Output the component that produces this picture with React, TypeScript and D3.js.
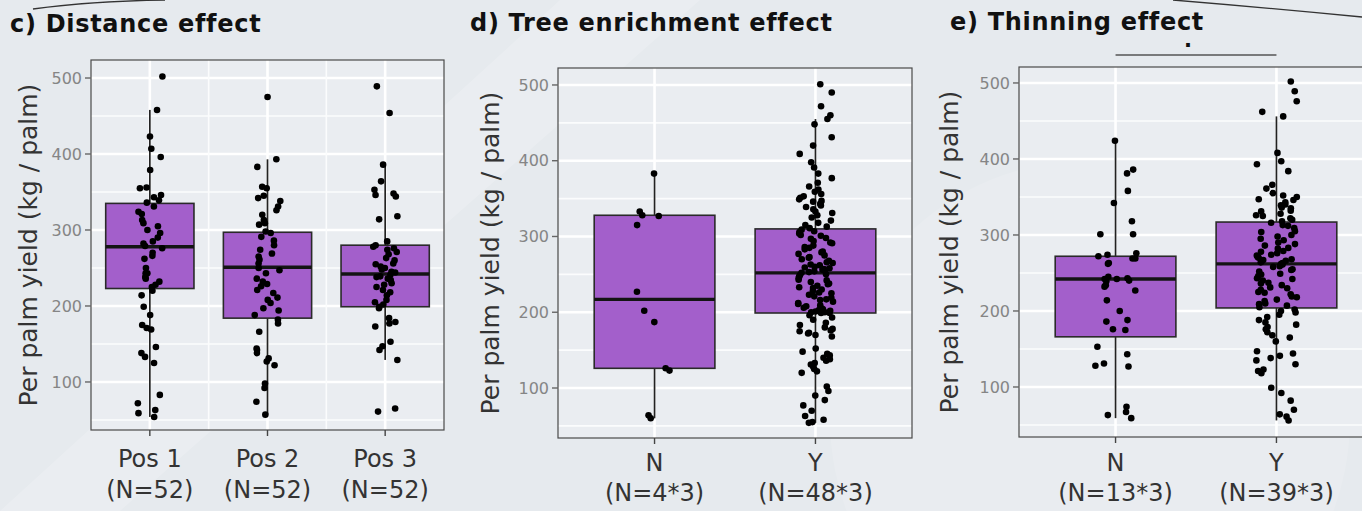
import React from "react";
import * as d3 from "d3";

// ---------- data ----------
const yTicks = [100, 200, 300, 400, 500];

const distTitle = "c) Distance effect";
const distCategories = ["Pos 1", "Pos 2", "Pos 3"];
const distCounts = ["(N=52)", "(N=52)", "(N=52)"];
const distPos1 = [502, 458, 423, 407, 396, 379, 356, 355, 346, 343, 339, 336, 331, 324, 321, 313, 309, 305, 300, 296, 290, 285, 282, 279, 276, 270, 266, 262, 250, 243, 243, 238, 236, 232, 228, 225, 220, 214, 199, 188, 175, 171, 169, 146, 138, 133, 125, 83, 72, 63, 59, 54];
const distPos2 = [475, 393, 383, 357, 355, 345, 342, 338, 331, 326, 320, 313, 309, 307, 298, 296, 291, 286, 280, 274, 269, 265, 261, 256, 250, 247, 243, 236, 232, 229, 226, 221, 217, 211, 208, 204, 197, 194, 188, 182, 177, 166, 144, 142, 138, 131, 127, 122, 98, 92, 74, 57];
const distPos3 = [489, 454, 386, 364, 353, 348, 346, 344, 318, 314, 285, 280, 278, 276, 274, 271, 268, 263, 260, 256, 255, 252, 250, 248, 245, 244, 241, 239, 238, 236, 234, 230, 228, 225, 221, 218, 214, 208, 205, 202, 199, 197, 184, 179, 177, 173, 153, 147, 142, 129, 65, 61];
const distQ1 = [223, 184, 199];
const distMedian = [278, 251, 242];
const distQ3 = [335, 297, 280];
const distWhiskerLow = [54, 57, 129];
const distWhiskerHigh = [458, 393, 386];

const enrichTitle = "d) Tree enrichment effect";
const enrichCategories = ["N", "Y"];
const enrichCounts = ["(N=4*3)", "(N=48*3)"];
const enrichN = [383, 333, 328, 327, 315, 227, 202, 187, 126, 123, 64, 60];
const enrichY = [
  501, 490, 472, 460, 455, 448, 431, 420, 409, 398, 391, 383, 377, 371, 366, 362, 359, 356, 353, 351, 349, 347, 346, 343, 341, 339, 336, 333, 331, 328, 325, 321, 318, 315, 313, 311,
  309, 307, 306, 304, 302, 301, 298, 297, 294, 292, 291, 288, 286, 285, 283, 280, 279, 277, 275, 273, 272, 270, 268, 266, 265, 263, 262, 260, 259, 258, 257, 256, 255, 254, 253, 252,
  250, 249, 247, 245, 243, 242, 240, 238, 237, 235, 233, 232, 230, 228, 226, 225, 223, 221, 219, 217, 216, 214, 212, 211, 209, 208, 206, 205, 204, 203, 202, 201, 200, 200, 199, 199,
  196, 193, 190, 186, 183, 180, 178, 176, 175, 173, 172, 170, 168, 152, 148, 145, 143, 140, 138, 136, 133, 131, 128, 125, 122, 120, 102, 96, 90, 84, 77, 70, 63, 58, 55, 54,
];
const enrichQ1 = [126, 199];
const enrichMedian = [217, 252];
const enrichQ3 = [328, 310];
const enrichWhiskerLow = [60, 54];
const enrichWhiskerHigh = [383, 455];

const thinTitle = "e) Thinning effect";
const thinCategories = ["N", "Y"];
const thinCounts = ["(N=13*3)", "(N=39*3)"];
const thinN = [424, 386, 381, 358, 342, 318, 301, 301, 276, 274, 272, 269, 269, 263, 262, 245, 243, 242, 242, 240, 239, 234, 232, 227, 214, 200, 188, 186, 176, 175, 153, 143, 131, 128, 127, 74, 67, 63, 59];
const thinY = [
  502, 489, 476, 462, 456, 408, 397, 393, 384, 366, 361, 355, 352, 350, 347, 346, 343, 340, 339, 336, 335, 332, 331, 328, 326, 325, 322, 320, 318,
  316, 313, 312, 309, 305, 304, 300, 298, 295, 293, 290, 288, 286, 283, 282, 279, 278, 276, 274, 273, 271, 270, 268, 267, 266, 265, 264, 263, 262,
  261, 259, 258, 255, 254, 252, 249, 248, 246, 243, 242, 240, 237, 236, 234, 231, 230, 228, 225, 224, 222, 219, 218, 215, 213, 210, 209, 207, 205,
  202, 200, 198, 195, 192, 188, 185, 182, 179, 176, 172, 168, 165, 160, 147, 144, 141, 138, 135, 130, 123, 121, 118, 99, 92, 82, 70, 64, 61, 56,
];
const thinQ1 = [166, 204];
const thinMedian = [242, 262];
const thinQ3 = [272, 317];
const thinWhiskerLow = [59, 56];
const thinWhiskerHigh = [424, 456];
const thinSignif = ".";

const yLabel = "Per palm yield (kg / palm)";

// ---------- styles ----------
const FONT = "'DejaVu Sans', Verdana, sans-serif";
const FILL = "#a35fcb";
const PAGE_BG = "#e6eaee";
const PANEL_BG = "#eaedf1";

type PanelProps = {
  title: string;
  categories: string[];
  counts: string[];
  groups: number[][];
  q1: number[];
  med: number[];
  q3: number[];
  wlo: number[];
  whi: number[];
  left: number;
  right: number;
  top: number;
  bottom: number;
  pad: number;
  ydom: [number, number];
  titleX: number;
  titleY: number;
  ylabX: number;
  lab1Y: number;
  lab2Y: number;
  midVerticals: boolean;
  seed: number;
  jitter: number;
  signif?: string;
};

function Panel(p: PanelProps) {
  const n = p.categories.length;
  const x = d3.scaleLinear().domain([1 - p.pad, n + p.pad]).range([p.left, p.right]);
  const y = d3.scaleLinear().domain(p.ydom).range([p.bottom, p.top]);
  const unit = x(2) - x(1);
  const boxW = unit * 0.75;
  const minor = yTicks.map((t) => t - 50).filter((v) => v > p.ydom[0]);
  const rng = d3.randomUniform.source(d3.randomLcg(p.seed))(-p.jitter, p.jitter);
  const cy = (p.top + p.bottom) / 2;
  return (
    <g>
      <text x={p.titleX} y={p.titleY} fontFamily={FONT} fontWeight="bold" fontSize={24} fill="#111" letterSpacing={0.7}>
        {p.title}
      </text>
      <rect x={p.left} y={p.top} width={p.right - p.left} height={p.bottom - p.top} fill={PANEL_BG} />
      {minor.map((v) => (
        <line key={"mi" + v} x1={p.left} x2={p.right} y1={y(v)} y2={y(v)} stroke="#fbfcfd" strokeWidth={1.6} />
      ))}
      {yTicks.map((v) => (
        <line key={"ma" + v} x1={p.left} x2={p.right} y1={y(v)} y2={y(v)} stroke="#ffffff" strokeWidth={2.6} />
      ))}
      {p.midVerticals &&
        d3.range(1.5, n, 1).map((v) => (
          <line key={"mv" + v} x1={x(v)} x2={x(v)} y1={p.top} y2={p.bottom} stroke="#fbfcfd" strokeWidth={1.6} />
        ))}
      {p.categories.map((c, i) => (
        <line key={"vv" + c} x1={x(i + 1)} x2={x(i + 1)} y1={p.top} y2={p.bottom} stroke="#ffffff" strokeWidth={2.6} />
      ))}
      {p.categories.map((c, i) => {
        const cx = x(i + 1);
        return (
          <g key={"box" + c}>
            <line x1={cx} x2={cx} y1={y(p.wlo[i])} y2={y(p.q1[i])} stroke="#222" strokeWidth={1.7} />
            <line x1={cx} x2={cx} y1={y(p.q3[i])} y2={y(p.whi[i])} stroke="#222" strokeWidth={1.7} />
            <rect
              x={cx - boxW / 2}
              y={y(p.q3[i])}
              width={boxW}
              height={y(p.q1[i]) - y(p.q3[i])}
              fill={FILL}
              stroke="#2a2a2a"
              strokeWidth={1.6}
            />
            <line x1={cx - boxW / 2} x2={cx + boxW / 2} y1={y(p.med[i])} y2={y(p.med[i])} stroke="#141414" strokeWidth={3.4} />
          </g>
        );
      })}
      {p.groups.map((g, i) =>
        g.map((v, j) => <circle key={"pt" + i + "-" + j} cx={x(i + 1 + rng())} cy={y(v)} r={3.3} fill="#000" />)
      )}
      <rect x={p.left} y={p.top} width={p.right - p.left} height={p.bottom - p.top} fill="none" stroke="#4a4a4a" strokeWidth={1.2} />
      {yTicks.map((v) => (
        <g key={"yt" + v}>
          <line x1={p.left - 6} x2={p.left} y1={y(v)} y2={y(v)} stroke="#666" strokeWidth={1.4} />
          <text x={p.left - 9} y={y(v)} dy="0.36em" textAnchor="end" fontFamily={FONT} fontSize={16} fill="#858585">
            {v}
          </text>
        </g>
      ))}
      {p.categories.map((c, i) => (
        <g key={"xt" + c}>
          <line x1={x(i + 1)} x2={x(i + 1)} y1={p.bottom} y2={p.bottom + 6} stroke="#444" strokeWidth={1.4} />
          <text x={x(i + 1)} y={p.lab1Y} textAnchor="middle" fontFamily={FONT} fontSize={24} fill="#333">
            {c}
          </text>
          <text x={x(i + 1)} y={p.lab2Y} textAnchor="middle" fontFamily={FONT} fontSize={24} fill="#333">
            {p.counts[i]}
          </text>
        </g>
      ))}
      <text
        transform={`translate(${p.ylabX},${cy}) rotate(-90)`}
        textAnchor="middle"
        fontFamily={FONT}
        fontSize={25}
        fill="#333"
      >
        {yLabel}
      </text>
      {p.signif && (
        <g>
          <line x1={x(1)} x2={x(2)} y1={p.top - 12} y2={p.top - 12} stroke="#555" strokeWidth={1.5} />
          <text x={(x(1) + x(2)) / 2 - 8} y={p.top - 20} textAnchor="middle" fontFamily={FONT} fontWeight="bold" fontSize={21} fill="#111">
            {p.signif}
          </text>
        </g>
      )}
    </g>
  );
}

export default function App() {
  return (
    <svg width={1362} height={511} style={{ position: "absolute", left: 0, top: 0, display: "block" }}>
      <rect x={0} y={0} width={1362} height={511} fill={PAGE_BG} />
      <path d="M 0 511 L 120 511 L 700 0 L 560 0 Z" fill="#ffffff" opacity={0.18} />
      <circle cx={1090} cy={420} r={260} fill="#ffffff" opacity={0.12} />
      <path d="M 33 9 Q 90 1 165 0" fill="none" stroke="#333" strokeWidth={1.3} />
      <path d="M 1173 0 Q 1270 8 1362 17" fill="none" stroke="#333" strokeWidth={1.3} />
      <Panel
        title={distTitle}
        categories={distCategories}
        counts={distCounts}
        groups={[distPos1, distPos2, distPos3]}
        q1={distQ1}
        med={distMedian}
        q3={distQ3}
        wlo={distWhiskerLow}
        whi={distWhiskerHigh}
        left={91}
        right={444}
        top={60}
        bottom={430}
        pad={0.5}
        ydom={[36.8, 523.7]}
        titleX={10}
        titleY={32}
        ylabX={37}
        lab1Y={467}
        lab2Y={498}
        midVerticals={true}
        seed={0.11}
        jitter={0.11}
      />
      <Panel
        title={enrichTitle}
        categories={enrichCategories}
        counts={enrichCounts}
        groups={[enrichN, enrichY]}
        q1={enrichQ1}
        med={enrichMedian}
        q3={enrichQ3}
        wlo={enrichWhiskerLow}
        whi={enrichWhiskerHigh}
        left={558}
        right={912}
        top={68}
        bottom={438}
        pad={0.6}
        ydom={[34, 522.4]}
        titleX={470}
        titleY={31}
        ylabX={499}
        lab1Y={471}
        lab2Y={501}
        midVerticals={false}
        seed={0.37}
        jitter={0.11}
      />
      <Panel
        title={thinTitle}
        categories={thinCategories}
        counts={thinCounts}
        groups={[thinN, thinY]}
        q1={thinQ1}
        med={thinMedian}
        q3={thinQ3}
        wlo={thinWhiskerLow}
        whi={thinWhiskerHigh}
        left={1019}
        right={1373}
        top={67}
        bottom={437}
        pad={0.6}
        ydom={[34.2, 521]}
        titleX={950}
        titleY={30}
        ylabX={958}
        lab1Y={471}
        lab2Y={501}
        midVerticals={false}
        seed={0.73}
        jitter={0.13}
        signif={thinSignif}
      />
    </svg>
  );
}
